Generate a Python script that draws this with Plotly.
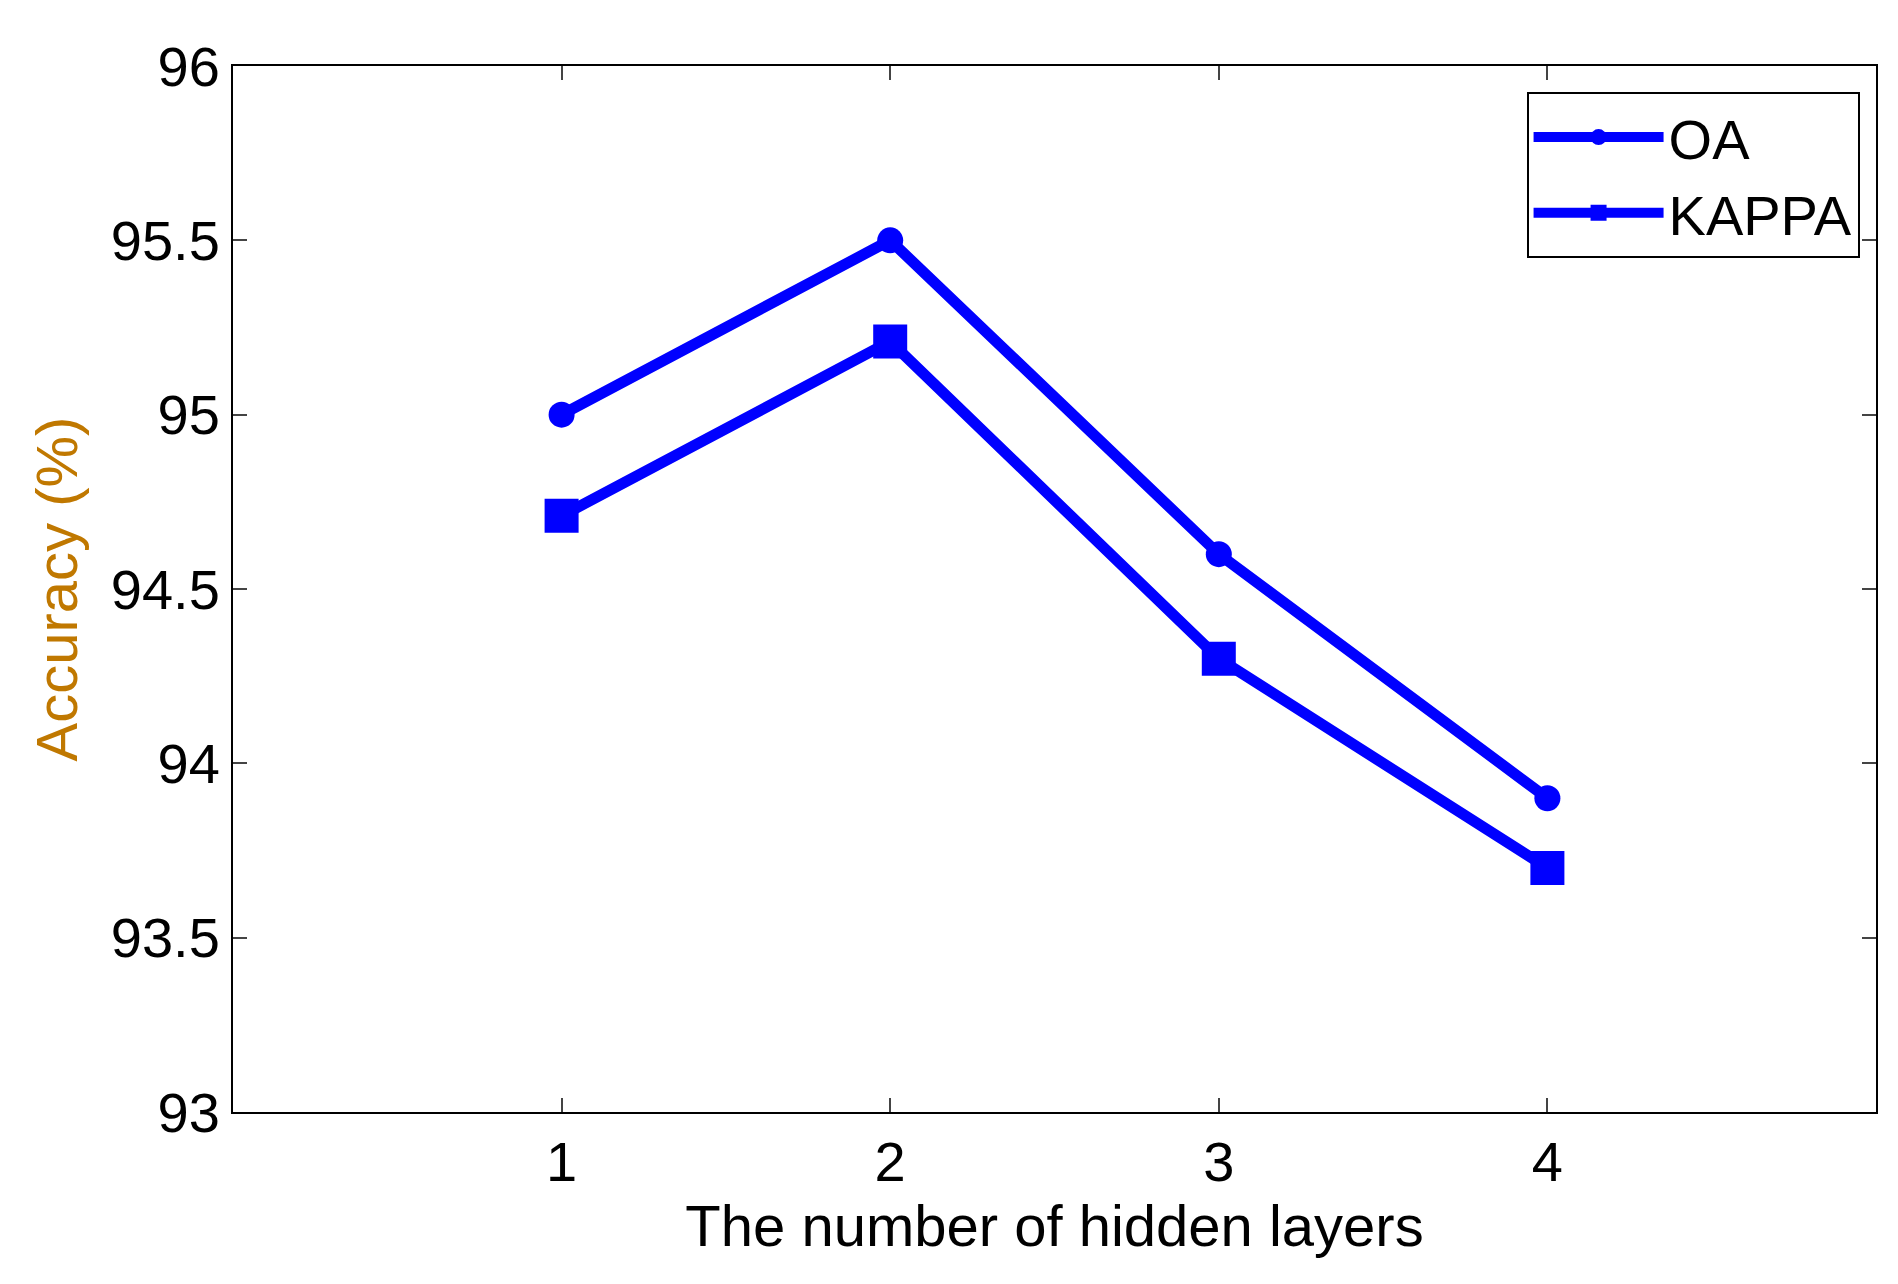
import plotly.graph_objects as go

x = [1, 2, 3, 4]
oa = [95.0, 95.5, 94.6, 93.9]
kappa = [94.71, 95.21, 94.3, 93.7]
yticks = [93, 93.5, 94, 94.5, 95, 95.5, 96]
ytext = ["93", "93.5", "94", "94.5", "95", "95.5", "96"]

fig = go.Figure()
fig.add_trace(go.Scatter(x=x, y=oa, name="OA", mode="lines+markers",
                         line=dict(color="#0000ff", width=11),
                         marker=dict(symbol="circle", size=26, color="#0000ff")))
fig.add_trace(go.Scatter(x=x, y=kappa, name="KAPPA", mode="lines+markers",
                         line=dict(color="#0000ff", width=11),
                         marker=dict(symbol="square", size=34, color="#0000ff")))
ax = dict(showline=True, linecolor="black", linewidth=2, mirror="ticks",
          ticks="inside", ticklen=14, tickwidth=2, showgrid=False, zeroline=False,
          tickfont=dict(size=56, color="black"))
fig.update_xaxes(range=[0, 5], tickvals=x, ticktext=["1", "2", "3", "4"],
                 title=dict(text="The number of hidden layers", font=dict(size=58, color="black"), standoff=8), **ax)
fig.update_yaxes(range=[93, 96], tickvals=yticks, ticktext=ytext,
                 title=dict(text="Accuracy (%)", font=dict(size=58, color="#c07800"), standoff=14), **ax)
fig.update_layout(width=1898, height=1284, paper_bgcolor="white", plot_bgcolor="white",
                  font=dict(family="Liberation Sans"),
                  margin=dict(l=225, r=30, t=58, b=180),
                  legend=dict(x=0.99, y=0.975, xanchor="right", yanchor="top",
                              bordercolor="black", borderwidth=2, bgcolor="white",
                              font=dict(size=56, color="black"), itemwidth=130),
                  showlegend=True)
fig.write_html("out.html")
